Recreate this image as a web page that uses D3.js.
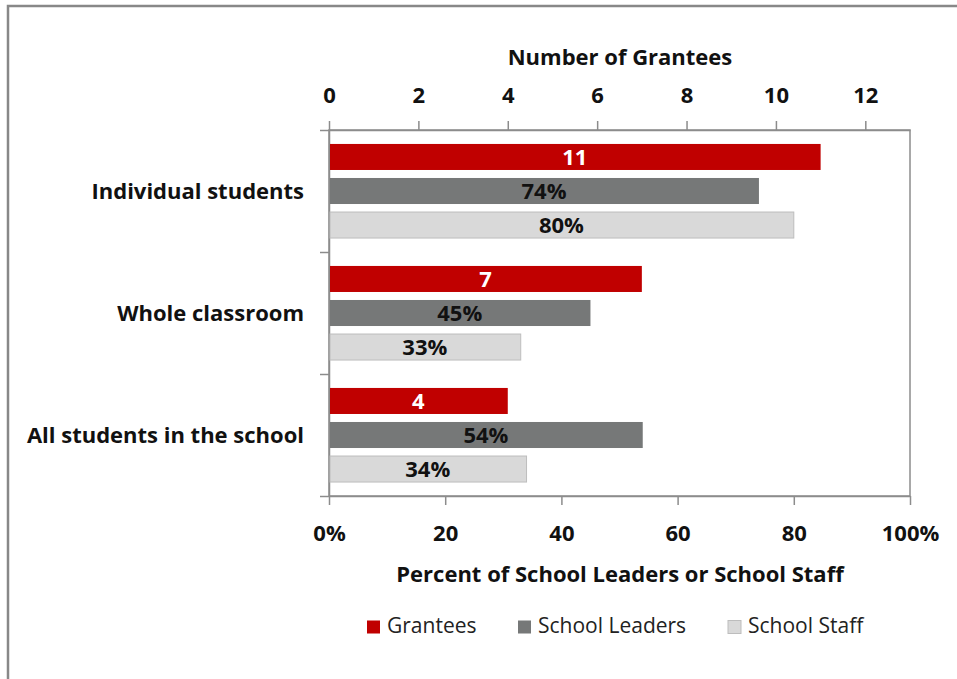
<!DOCTYPE html>
<html>
<head>
<meta charset="utf-8">
<script src="https://cdn.jsdelivr.net/npm/d3@7"></script>
<style>
  html, body { margin: 0; padding: 0; background: #fff; }
  svg { display: block; font-family: "Open Sans", sans-serif; }
</style>
</head>
<body>
<svg id="chart" width="957" height="679"></svg>
<script>
// Categories shown on the vertical axis
const categories = ["Individual students", "Whole classroom", "All students in the school"];
// Series
const seriesNames = ["Grantees", "School Leaders", "School Staff"];
const granteeCounts = [11, 7, 4];           // number of grantees (top axis)
const leaderPercents = [74, 45, 54];        // percent of school leaders (bottom axis)
const staffPercents = [80, 33, 34];         // percent of school staff (bottom axis)
// Tick labels
const topTicks = [0, 2, 4, 6, 8, 10, 12];
const bottomTicks = [0, 20, 40, 60, 80, 100];
const colors = ["#C00000", "#767878", "#D9D9D9"];

const FONT = "'Open Sans', sans-serif";
const FS = 22;

const svg = d3.select("#chart");
const margin = { left: 329, right: 47, top: 130, bottom: 183 };
const W = 957, H = 679;
const x0 = margin.left, x1 = W - margin.right;
const y0 = margin.top, y1 = H - margin.bottom;

// outer frame
svg.append("rect").attr("x", 8).attr("y", 6).attr("width", 980).attr("height", 700)
  .attr("fill", "none").attr("stroke", "#888").attr("stroke-width", 2.5);

const xCount = d3.scaleLinear().domain([0, 13]).range([x0, x1]);
const xPct = d3.scaleLinear().domain([0, 100]).range([x0, x1]);
const yCat = d3.scaleBand().domain(categories).range([y0, y1]);
const ySeries = d3.scaleBand().domain(seriesNames).range([0, yCat.bandwidth()])
  .paddingInner(0.235).paddingOuter(0.41);

// plot frame
svg.append("rect").attr("x", x0).attr("y", y0).attr("width", x1 - x0).attr("height", y1 - y0)
  .attr("fill", "none").attr("stroke", "#8c8c8c").attr("stroke-width", 1.5);

// top axis
const topAxis = svg.append("g").attr("transform", `translate(0,${y0})`)
  .call(d3.axisTop(xCount).tickValues(topTicks).tickSize(9).tickPadding(18).tickSizeOuter(0));
// bottom axis
const bottomAxis = svg.append("g").attr("transform", `translate(0,${y1})`)
  .call(d3.axisBottom(xPct).tickValues(bottomTicks).tickSize(9).tickPadding(20).tickSizeOuter(0)
    .tickFormat(d => (d === 0 || d === 100) ? d + "%" : d));
// left axis (ticks at category boundaries)
const leftAxis = svg.append("g").attr("transform", `translate(${x0},0)`)
  .call(d3.axisLeft(d3.scaleLinear().domain([0, 3]).range([y0, y1])).tickValues([0, 1, 2, 3])
    .tickSize(9).tickFormat("").tickSizeOuter(0));

[topAxis, bottomAxis, leftAxis].forEach(g => {
  g.select(".domain").attr("stroke", "#8c8c8c").attr("stroke-width", 1.5);
  g.selectAll(".tick line").attr("stroke", "#8c8c8c").attr("stroke-width", 1.5);
  g.selectAll("text").attr("fill", "#111").attr("font-size", FS).attr("font-weight", "bold")
    .attr("font-family", FONT);
});

// bars
const rows = categories.map((c, i) => ({
  cat: c,
  items: [
    { s: seriesNames[0], x: xCount(granteeCounts[i]), label: String(granteeCounts[i]), color: colors[0], text: "#fff" },
    { s: seriesNames[1], x: xPct(leaderPercents[i]), label: leaderPercents[i] + "%", color: colors[1], text: "#111" },
    { s: seriesNames[2], x: xPct(staffPercents[i]), label: staffPercents[i] + "%", color: colors[2], text: "#111" }
  ]
}));

const groups = svg.selectAll("g.cat").data(rows).join("g").attr("class", "cat")
  .attr("transform", d => `translate(0,${yCat(d.cat)})`);

groups.selectAll("rect").data(d => d.items).join("rect")
  .attr("x", x0 + 1).attr("y", d => ySeries(d.s))
  .attr("width", d => d.x - x0 - 1).attr("height", ySeries.bandwidth())
  .attr("fill", d => d.color)
  .attr("stroke", d => d.s === "School Staff" ? "#bdbdbd" : "none").attr("stroke-width", 1);

groups.selectAll("text.val").data(d => d.items).join("text").attr("class", "val")
  .attr("x", d => (x0 + d.x) / 2).attr("y", d => ySeries(d.s) + ySeries.bandwidth() / 2)
  .attr("dy", "0.36em").attr("text-anchor", "middle")
  .attr("font-size", FS).attr("font-weight", "bold").attr("fill", d => d.text)
  .text(d => d.label);

// category labels
groups.append("text")
  .attr("x", 304).attr("y", ySeries(seriesNames[1]) + ySeries.bandwidth() / 2)
  .attr("dy", "0.36em").attr("text-anchor", "end")
  .attr("font-size", FS).attr("font-weight", "bold").attr("fill", "#111")
  .text(d => d.cat);

// axis titles
svg.append("text").attr("x", 620).attr("y", 65).attr("text-anchor", "middle")
  .attr("font-size", FS).attr("font-weight", "bold").attr("fill", "#111").text("Number of Grantees");
svg.append("text").attr("x", 620).attr("y", 582).attr("text-anchor", "middle")
  .attr("font-size", FS).attr("font-weight", "bold").attr("fill", "#111").text("Percent of School Leaders or School Staff");

// legend
const legendX = [367, 518, 728];
const legend = svg.selectAll("g.leg").data(seriesNames).join("g").attr("class", "leg")
  .attr("transform", (d, i) => `translate(${legendX[i]},633)`);
legend.append("rect").attr("x", 0).attr("y", -12.5).attr("width", 13).attr("height", 13)
  .attr("fill", (d, i) => colors[i]).attr("stroke", (d, i) => i === 2 ? "#bdbdbd" : "none");
legend.append("text").attr("x", 20).attr("y", 0)
  .attr("font-size", 21).attr("fill", "#222").text(d => d);
</script>
</body>
</html>
